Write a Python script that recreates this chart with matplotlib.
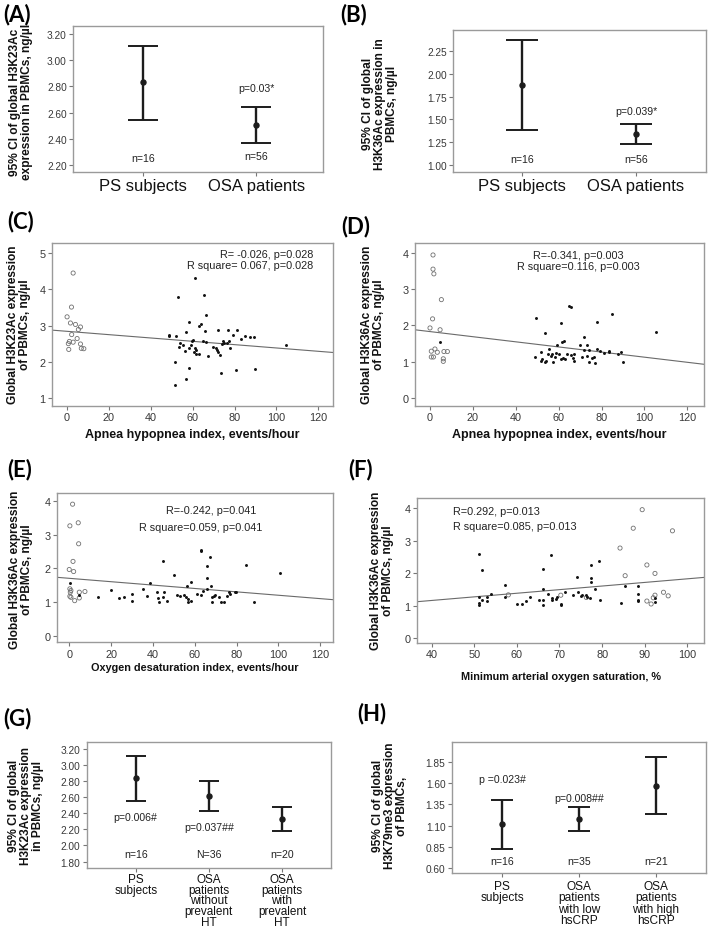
import matplotlib
matplotlib.use("Agg")
import matplotlib.pyplot as plt

W, H = 708, 928

# ---- (A) H3K23Ac, PS vs OSA: mean / lower / upper 95% CI
A_groups = ["PS subjects", "OSA patients"]
A_mean = [2.83, 2.505]
A_lo = [2.545, 2.37]
A_hi = [3.11, 2.64]
A_n = ["n=16", "n=56"]

# ---- (B) H3K36Ac, PS vs OSA
B_groups = ["PS subjects", "OSA patients"]
B_mean = [1.875, 1.34]
B_lo = [1.38, 1.235]
B_hi = [2.37, 1.445]
B_n = ["n=16", "n=56"]

# ---- (C) H3K23Ac vs AHI
C_ps_x = [2.9, 2.1, 0.0, 1.6, 4.0, 6.4, 5.4, 2.2, 4.8, 1.1, 2.9, 0.6, 6.4, 6.8, 8.0, 0.8]
C_ps_y = [4.45, 3.51, 3.24, 3.07, 3.03, 2.96, 2.89, 2.75, 2.64, 2.56, 2.54, 2.50, 2.49, 2.37, 2.36, 2.34]
C_osa_x = [61.0, 53.0, 65.2, 66.5, 58.0, 63.1, 64.1, 56.9, 66.0, 77.0, 81.1, 72.3, 79.2, 48.5, 48.8,
           52.0, 85.1, 87.5, 89.1, 83.2, 60.1, 64.7, 66.5, 74.4, 75.0, 77.2, 76.3, 73.8, 104.6, 53.7,
           55.3, 59.2, 53.6, 58.0, 56.4, 61.0, 61.8, 69.9, 71.2, 71.8, 77.9, 60.4, 61.8, 62.9, 72.3,
           73.1, 67.1, 51.7, 58.3, 80.6, 89.8, 73.6, 56.9, 51.7, 59.6]
C_osa_y = [4.32, 3.80, 3.83, 3.29, 3.11, 3.00, 3.03, 2.81, 2.84, 2.87, 2.88, 2.88, 2.75, 2.74, 2.71,
           2.72, 2.72, 2.69, 2.68, 2.63, 2.59, 2.56, 2.54, 2.56, 2.53, 2.56, 2.52, 2.49, 2.45, 2.53,
           2.47, 2.47, 2.40, 2.38, 2.31, 2.38, 2.32, 2.42, 2.38, 2.33, 2.37, 2.26, 2.21, 2.21, 2.27,
           2.19, 2.15, 1.99, 1.84, 1.78, 1.81, 1.68, 1.51, 1.35, 2.56]
C_fit = (2.84, -0.0046)  # intercept, slope

# ---- (D) H3K36Ac vs AHI
D_ps_x = [1.4, 1.4, 1.8, 5.3, 1.2, 0.0, 4.7, 2.3, 0.6, 3.4, 0.6, 1.6, 6.5, 8.1, 6.2, 6.2]
D_ps_y = [3.94, 3.55, 3.42, 2.71, 2.18, 1.93, 1.88, 1.35, 1.29, 1.26, 1.13, 1.13, 1.28, 1.28, 1.08, 1.01]
D_osa_x = [49.3, 64.8, 65.9, 85.0, 61.2, 78.0, 105.2, 53.5, 71.8, 4.7, 61.7, 62.5, 59.4, 69.8, 55.5,
           73.4, 74.2, 78.0, 79.3, 83.5, 83.5, 71.8, 51.9, 81.1, 88.9, 87.8, 57.1, 58.6, 60.1, 64.0,
           65.6, 67.2, 56.3, 58.3, 60.9, 62.2, 63.0, 66.5, 70.7, 73.4, 75.7, 76.6, 49.0, 52.1, 51.9,
           53.6, 54.2, 57.3, 67.2, 74.2, 77.1, 90.2, 55.1]
D_osa_y = [2.20, 2.53, 2.50, 2.31, 2.06, 2.09, 1.83, 1.78, 1.69, 1.54, 1.54, 1.58, 1.45, 1.46, 1.35,
           1.46, 1.33, 1.35, 1.30, 1.29, 1.26, 1.31, 1.28, 1.24, 1.26, 1.20, 1.22, 1.24, 1.22, 1.20,
           1.19, 1.20, 1.17, 1.13, 1.08, 1.10, 1.08, 1.10, 1.13, 1.17, 1.10, 1.13, 1.13, 1.08, 1.03,
           0.99, 1.01, 0.99, 1.03, 0.99, 0.97, 0.99, 1.22]
D_fit = (1.83, -0.00705)

# ---- (E) H3K36Ac vs ODI
E_ps_x = [1.6, 0.3, 4.3, 4.5, 1.8, 0.0, 2.1, 0.3, 0.5, 0.3, 0.8, 4.8, 7.5, 4.8, 2.6, 0.8]
E_ps_y = [3.90, 3.26, 3.35, 2.73, 2.21, 1.97, 1.91, 1.40, 1.30, 1.18, 1.15, 1.30, 1.32, 1.13, 1.05, 1.35]
E_osa_x = [0.3, 4.6, 13.6, 20.0, 23.8, 26.2, 30.0, 29.8, 35.1, 37.0, 38.6, 41.8, 42.6, 42.9, 44.7,
           44.7, 45.3, 46.6, 50.1, 51.7, 53.0, 54.9, 55.9, 56.2, 57.0, 57.0, 58.2, 58.0, 61.3, 63.0,
           63.0, 63.1, 63.8, 65.8, 65.8, 66.1, 67.4, 67.8, 68.2, 68.4, 69.0, 69.8, 71.8, 72.6, 74.1,
           75.3, 76.6, 76.9, 79.3, 79.6, 84.4, 88.6, 101.0]
E_osa_y = [1.57, 1.22, 1.17, 1.37, 1.12, 1.15, 1.25, 1.05, 1.40, 1.20, 1.56, 1.32, 1.12, 1.02, 1.15,
           2.23, 1.30, 1.04, 1.80, 1.22, 1.18, 1.22, 1.15, 1.47, 1.00, 1.10, 1.61, 1.05, 1.25, 1.22,
           2.55, 2.53, 1.35, 2.08, 1.72, 1.40, 2.33, 1.49, 1.15, 1.00, 1.18, 1.22, 1.15, 1.02, 1.02,
           1.20, 1.32, 1.25, 1.32, 1.30, 2.10, 1.00, 1.86]
E_fit = (1.71, -0.005)

# ---- (F) H3K36Ac vs minimum SaO2
F_ps_x = [89.4, 87.3, 96.5, 84.2, 90.5, 92.4, 85.4, 92.4, 94.4, 95.5, 90.5, 91.5, 76.3, 70.3, 58.0, 92.0]
F_ps_y = [3.96, 3.39, 3.31, 2.78, 2.26, 2.00, 1.93, 1.33, 1.42, 1.31, 1.15, 1.06, 1.26, 1.33, 1.34, 1.25]
F_osa_x = [51.0, 51.9, 51.0, 51.0, 51.0, 51.9, 53.1, 53.1, 54.0, 57.1, 57.1, 60.1, 61.1, 62.1, 63.1,
           65.1, 66.1, 66.1, 66.2, 66.1, 67.2, 68.1, 68.2, 68.2, 69.2, 69.3, 70.3, 70.3, 71.2, 73.2,
           74.2, 74.4, 75.0, 75.3, 76.3, 76.4, 77.1, 77.3, 77.3, 77.3, 78.3, 79.3, 79.4, 84.4, 85.4,
           88.3, 88.3, 88.3, 88.4, 92.4, 92.4]
F_osa_y = [2.59, 2.12, 1.26, 1.09, 1.03, 1.19, 1.26, 1.16, 1.38, 1.65, 1.27, 1.06, 1.05, 1.14, 1.26,
           1.19, 1.53, 1.17, 1.03, 2.15, 1.36, 2.56, 1.23, 1.19, 1.21, 1.26, 1.03, 1.06, 1.42, 1.34,
           1.90, 1.42, 1.31, 1.34, 1.33, 1.26, 1.23, 2.27, 1.85, 1.75, 1.52, 2.37, 1.19, 1.09, 1.60,
           1.60, 1.38, 1.19, 1.16, 1.23, 1.13]
F_fit = (0.724, 0.0111)

# ---- (G) H3K23Ac by hypertension
G_groups = ["PS\nsubjects", "OSA\npatients\nwithout\nprevalent\nHT", "OSA\npatients\nwith\nprevalent\nHT"]
G_mean = [2.836, 2.62, 2.33]
G_lo = [2.55, 2.43, 2.177]
G_hi = [3.117, 2.807, 2.48]
G_n = ["n=16", "N=36", "n=20"]

# ---- (H) H3K79me3 by hsCRP
H_groups = ["PS\nsubjects", "OSA\npatients\nwith low\nhsCRP", "OSA\npatients\nwith high\nhsCRP"]
H_mean = [1.12, 1.178, 1.569]
H_lo = [0.827, 1.037, 1.233]
H_hi = [1.405, 1.315, 1.905]
H_n = ["n=16", "n=35", "n=21"]

SANS = ["Liberation Sans", "DejaVu Sans"]
NARROW = ["Liberation Sans Narrow", "Liberation Sans", "DejaVu Sans"]
TITLE = ["Lato", "DejaVu Sans"]
FRAME = "#9a9a9a"
TICKC = "#383838"

plt.rcParams["font.family"] = SANS

fig = plt.figure(figsize=(W / 100, H / 100), dpi=100)


def rect(l, t, r, b):
    return [l / W, 1 - b / H, (r - l) / W, (b - t) / H]


def px_text(x, y, s, **kw):
    fig.text(x / W, 1 - y / H, s, **kw)


def style(ax, labelsize=7.3):
    for sp in ax.spines.values():
        sp.set_color(FRAME)
        sp.set_linewidth(1.0)
    ax.tick_params(axis="both", direction="out", length=3, width=0.8,
                   color="#777777", labelcolor=TICKC, labelsize=labelsize, pad=1.5)


def ci_panel(ax, groups, mean, lo, hi, ylim, yticks, fmt, cap, catsize, xlim,
             spacing=0.92, catpad=1.5):
    xs = list(range(len(groups)))
    err = [[m - l for m, l in zip(mean, lo)], [h - m for m, h in zip(mean, hi)]]
    ax.errorbar(xs, mean, yerr=err, fmt="o", ms=3.6, color="#1c1c1c",
                elinewidth=1.7, capsize=cap, capthick=1.4)
    ax.set_xlim(*xlim)
    ax.set_ylim(*ylim)
    ax.set_yticks(yticks)
    ax.set_yticklabels([fmt.format(v) for v in yticks])
    ax.set_xticks(xs)
    ax.set_xticklabels(groups, fontsize=catsize, color="#111111", linespacing=spacing)
    style(ax)
    ax.tick_params(axis="x", labelcolor="#111111", labelsize=catsize, pad=catpad)


def scatter_panel(ax, psx, psy, osx, osy, fit, xlim, ylim, xticks, yticks):
    ax.scatter(psx, psy, s=9, facecolors="none", edgecolors="#707070", linewidths=0.6, zorder=3)
    ax.scatter(osx, osy, s=4.5, marker="o", color="#111111", linewidths=0, zorder=3)
    ax.plot(list(xlim), [fit[0] + fit[1] * v for v in xlim], color="#6a6a6a", lw=0.8)
    ax.set_xlim(*xlim)
    ax.set_ylim(*ylim)
    ax.set_xticks(xticks)
    ax.set_yticks(yticks)
    style(ax, labelsize=7.8)


# (A)
axA = fig.add_axes(rect(73, 27, 323, 173))
ci_panel(axA, A_groups, A_mean, A_lo, A_hi, (2.147, 3.26), [2.2, 2.4, 2.6, 2.8, 3.0, 3.2],
         "{:.2f}", 10.8, 12, (-0.62, 1.59))
axA.text(1, 2.785, "p=0.03*", ha="center", va="center", fontsize=7.6, color="#222222")
for i, t in enumerate(A_n):
    axA.text(i, [2.253, 2.27][i], t, ha="center", va="center", fontsize=7.6, color="#222222")

# (B)
axB = fig.add_axes(rect(453, 31, 706, 173))
ci_panel(axB, B_groups, B_mean, B_lo, B_hi, (0.923, 2.48), [1.0, 1.25, 1.5, 1.75, 2.0, 2.25],
         "{:.2f}", 11.8, 12, (-0.605, 1.614))
axB.text(1, 1.595, "p=0.039*", ha="center", va="center", fontsize=7.6, color="#222222")
for i, t in enumerate(B_n):
    axB.text(i, 1.066, t, ha="center", va="center", fontsize=7.6, color="#222222")

# (C)
axC = fig.add_axes(rect(52, 244, 333, 407))
scatter_panel(axC, C_ps_x, C_ps_y, C_osa_x, C_osa_y, C_fit, (-7.2, 127), (0.777, 5.28),
              [0, 20, 40, 60, 80, 100, 120], [1, 2, 3, 4, 5])
axC.text(117.4, 4.98, "R= -0.026, p=0.028", ha="right", va="center", fontsize=7.8, color="#222222")
axC.text(117.4, 4.67, "R square= 0.067, p=0.028", ha="right", va="center", fontsize=7.8, color="#222222")

# (D)
axD = fig.add_axes(rect(415, 244, 704, 407))
scatter_panel(axD, D_ps_x, D_ps_y, D_osa_x, D_osa_y, D_fit, (-7.0, 127.8), (-0.22, 4.27),
              [0, 20, 40, 60, 80, 100, 120], [0, 1, 2, 3, 4])
axD.text(69, 3.94, "R=-0.341, p=0.003", ha="center", va="center", fontsize=7.8, color="#222222")
axD.text(69, 3.65, "R square=0.116, p=0.003", ha="center", va="center", fontsize=7.8, color="#222222")

# (E)
axE = fig.add_axes(rect(56.7, 494, 332.7, 643.3))
scatter_panel(axE, E_ps_x, E_ps_y, E_osa_x, E_osa_y, E_fit, (-6.0, 126), (-0.18, 4.23),
              [0, 20, 40, 60, 80, 100, 120], [0, 1, 2, 3, 4])
axE.text(67.8, 3.73, "R=-0.242, p=0.041", ha="center", va="center", fontsize=7.8, color="#222222")
axE.text(62.8, 3.23, "R square=0.059, p=0.041", ha="center", va="center", fontsize=7.8, color="#222222")

# (F)
axF = fig.add_axes(rect(416.7, 499.3, 704, 644))
scatter_panel(axF, F_ps_x, F_ps_y, F_osa_x, F_osa_y, F_fit, (36.5, 103.9), (-0.14, 4.31),
              [40, 50, 60, 70, 80, 90, 100], [0, 1, 2, 3, 4])
axF.text(44.9, 3.93, "R=0.292, p=0.013", ha="left", va="center", fontsize=7.8, color="#222222")
axF.text(44.9, 3.47, "R square=0.085, p=0.013", ha="left", va="center", fontsize=7.8, color="#222222")

# (G)
axG = fig.add_axes(rect(86.7, 742.7, 331, 869))
ci_panel(axG, G_groups, G_mean, G_lo, G_hi, (1.72, 3.29),
         [1.8, 2.0, 2.2, 2.4, 2.6, 2.8, 3.0, 3.2], "{:.2f}", 7.5, 8.5, (-0.67, 2.67),
         spacing=0.88, catpad=0.3)
axG.text(0, 2.36, "p=0.006#", ha="center", va="center", fontsize=7.6, color="#222222")
axG.text(1, 2.235, "p=0.037##", ha="center", va="center", fontsize=7.6, color="#222222")
for i, t in enumerate(G_n):
    axG.text(i, 1.89, t, ha="center", va="center", fontsize=7.6, color="#222222")

# (H)
axH = fig.add_axes(rect(451.7, 743.3, 706.3, 874))
ci_panel(axH, H_groups, H_mean, H_lo, H_hi, (0.545, 2.077),
         [0.60, 0.85, 1.10, 1.35, 1.60, 1.85], "{:.2f}", 8, 8.6, (-0.66, 2.66),
         spacing=0.92, catpad=2.0)
axH.text(0, 1.647, "p =0.023#", ha="center", va="center", fontsize=7.6, color="#222222")
axH.text(1, 1.424, "p=0.008##", ha="center", va="center", fontsize=7.6, color="#222222")
for i, t in enumerate(H_n):
    axH.text(i, 0.69, t, ha="center", va="center", fontsize=7.6, color="#222222")

# y labels (bold, narrow)
ylab = dict(rotation=90, ha="center", va="center", fontsize=8.6, fontweight="bold",
            family=NARROW, linespacing=1.0, color="#111111")
px_text(21, 102, "95% CI of global H3K23Ac\nexpression in PBMCs, ng/µl", **ylab)
px_text(380, 104, "95% CI of global\nH3K36Ac expression in\nPBMCs, ng/µl", **ylab)
px_text(19, 325, "Global H3K23Ac expression\nof PBMCs, ng/µl", **ylab)
px_text(373, 325, "Global H3K36Ac expression\nof PBMCs, ng/µl", **ylab)
px_text(21, 570, "Global H3K36Ac expression\nof PBMCs, ng/µl", **ylab)
px_text(382, 571, "Global H3K36Ac expression\nof PBMCs, ng/µl", **ylab)
px_text(26, 806, "95% CI of global\nH3K23Ac expression\nin PBMCs, ng/µl", **ylab)
px_text(390, 806, "95% CI of global\nH3K79me3 expression\nof PBMCs,", **ylab)

# x labels of scatter panels
xlab = dict(ha="center", va="center", fontweight="bold", color="#111111")
px_text(192, 435, "Apnea hypopnea index, events/hour", fontsize=9, **xlab)
px_text(559, 435, "Apnea hypopnea index, events/hour", fontsize=9, **xlab)
px_text(195, 668, "Oxygen desaturation index, events/hour", fontsize=7.8, **xlab)
px_text(561, 677, "Minimum arterial oxygen saturation, %", fontsize=7.8, **xlab)

# panel letters
lab = dict(ha="left", va="center", fontsize=16, fontweight="bold", family=TITLE)
for x, y, s in [(3, 15, "(A)"), (340, 15, "(B)"), (7, 222, "(C)"), (341, 227, "(D)"),
                (7, 470, "(E)"), (348, 470, "(F)"), (3, 719, "(G)"), (357, 714, "(H)")]:
    px_text(x, y, s, **lab)

fig.savefig("out.png", dpi=100)
